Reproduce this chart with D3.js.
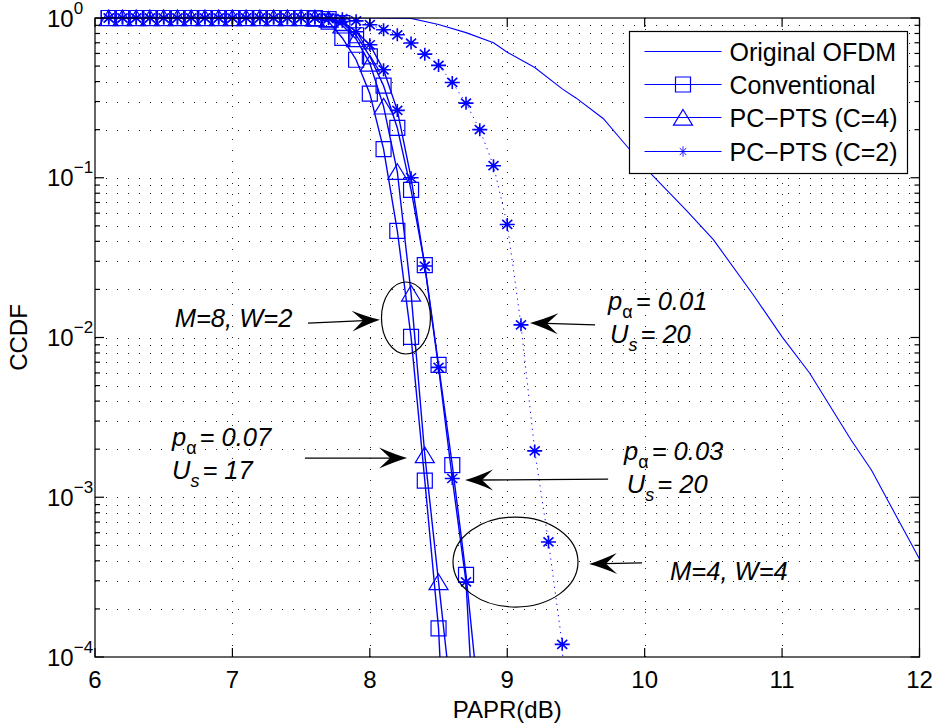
<!DOCTYPE html>
<html>
<head>
<meta charset="utf-8">
<script src="https://cdn.jsdelivr.net/npm/d3@7"></script>
<style>
  body { margin: 0; background: #fff; }
  text { font-family: "Liberation Sans", Arial, Helvetica, sans-serif; fill: #000; }
</style>
</head>
<body>
<svg id="chart" width="939" height="727"></svg>
<script>
// x positions in dB
var paprOrig = [6.0, 8.0, 8.3, 8.5, 8.7, 8.9, 9.0, 9.2, 9.4, 9.5, 9.7, 9.85, 10.05, 10.3, 10.5, 10.8, 11.0, 11.2, 11.5, 11.65, 12.0];
var ccdfOrig = [1, 1, 0.995, 0.91, 0.81, 0.70, 0.61, 0.49, 0.36, 0.316, 0.234, 0.165, 0.105, 0.063, 0.041, 0.018, 0.0101, 0.006, 0.0023, 0.00148, 0.00041];

var papr = [6.1, 6.2, 6.3, 6.4, 6.5, 6.6, 6.7, 6.8, 6.9, 7.0, 7.1, 7.2, 7.3, 7.4, 7.5,
            7.6, 7.7, 7.8, 7.9, 8.0, 8.1, 8.2, 8.3, 8.4, 8.5, 8.6, 8.7, 8.8, 8.9, 9.0,
            9.1, 9.2, 9.3, 9.4, 9.5];

// M=8, W=2
var convM8W2 = [1, 1, 1, 1, 1, 1, 1, 1, 1, 1, 1, 1, 1, 1, 1,
                0.995, 0.95, 0.75, 0.548, 0.336, 0.151, 0.0465, 0.0101, 0.00127, 0.000151, 0.0000025];
var pcptsC4 = [1, 1, 1, 1, 1, 1, 1, 1, 1, 1, 1, 1, 1, 1, 1,
               0.998, 0.98, 0.9, 0.74, 0.52, 0.28, 0.109, 0.0189, 0.00184, 0.000295, 0.000049];
// M=4, W=4
var convM4W4 = [1, 1, 1, 1, 1, 1, 1, 1, 1, 1, 1, 1, 1, 1, 1,
                0.998, 0.985, 0.93, 0.78, 0.575, 0.377, 0.205, 0.084, 0.0284, 0.00673, 0.00159, 0.000327, 0.000046];
var pcptsC2p03 = [1, 1, 1, 1, 1, 1, 1, 1, 1, 1, 1, 1, 1, 1, 1,
                  0.999, 0.99, 0.95, 0.82, 0.68, 0.474, 0.264, 0.10, 0.028, 0.0065, 0.00131, 0.000295, 0.000008];
var pcptsC2p01 = [1, 1, 1, 1, 1, 1, 1, 1, 1, 1, 1, 1, 1, 1, 1,
                  1, 0.999, 0.99, 0.96, 0.908, 0.845, 0.785, 0.697, 0.594, 0.505, 0.395, 0.293, 0.20, 0.119,
                  0.051, 0.012, 0.00195, 0.000525, 0.00012, 0.000001];

var xTicks = [6, 7, 8, 9, 10, 11, 12];
var yTickExp = [0, -1, -2, -3, -4];
var legendNames = ["Original OFDM", "Conventional", "PC\u2212PTS (C=4)", "PC\u2212PTS (C=2)"];

var blue = "#0000ff";
var svg = d3.select("#chart");
var mL = 95, mR = 919.5, mT = 18, mB = 657;

var x = d3.scaleLinear().domain([6, 12]).range([mL, mR]);
var y = d3.scaleLog().domain([1e-4, 1]).range([mB, mT]);

svg.append("rect").attr("width", 939).attr("height", 727).attr("fill", "#fff");

svg.append("clipPath").attr("id", "plotclip")
  .append("rect").attr("x", mL).attr("y", mT).attr("width", mR - mL).attr("height", mB - mT);

// grid
var grid = svg.append("g").attr("stroke", "#222").attr("stroke-width", 1).attr("stroke-dasharray", "1,10");
y.ticks().forEach(function(t) {
  if (t >= 1 || t <= 1e-4) return;
  grid.append("line").attr("x1", mL).attr("x2", mR)
    .attr("y1", Math.round(y(t)) + 0.5).attr("y2", Math.round(y(t)) + 0.5);
});
xTicks.slice(1, -1).forEach(function(t) {
  grid.append("line").attr("y1", mT).attr("y2", mB)
    .attr("x1", Math.round(x(t)) + 0.5).attr("x2", Math.round(x(t)) + 0.5);
});

// markers
var markerPath = {
  square: "M-7.5,-7.5H7.5V7.5H-7.5Z",
  triangle: "M0,-8L9.5,7.7L-9.5,7.7Z",
  star: "M-7.5,0H7.5M0,-6.5V6.5M-5,-4.5L5,4.5M-5,4.5L5,-4.5"
};

var line = d3.line().x(d => x(d[0])).y(d => y(d[1]));
var plot = svg.append("g");

plot.append("path")
  .attr("d", line(paprOrig.map((p, i) => [p, ccdfOrig[i]])))
  .attr("clip-path", "url(#plotclip)")
  .attr("fill", "none").attr("stroke", blue).attr("stroke-width", 1.1);

var series = [
  { vals: convM8W2, marker: "square" },
  { vals: pcptsC4, marker: "triangle" },
  { vals: convM4W4, marker: "square" },
  { vals: pcptsC2p03, marker: "star" },
  { vals: pcptsC2p01, marker: "star", dash: "1.2,4.5" }
];

series.forEach(function(s) {
  var pts = s.vals.map((v, i) => [papr[i], v]);
  plot.append("path")
    .attr("d", line(pts))
    .attr("clip-path", "url(#plotclip)")
    .attr("fill", "none").attr("stroke", blue)
    .attr("stroke-width", s.dash ? 1 : 1.4)
    .attr("stroke-dasharray", s.dash || null);
  plot.selectAll(null).data(pts.filter(d => d[1] >= 1e-4)).enter()
    .append("path")
    .attr("d", markerPath[s.marker])
    .attr("transform", d => "translate(" + x(d[0]) + "," + y(d[1]) + ")")
    .attr("fill", "none").attr("stroke", blue)
    .attr("stroke-width", s.marker === "star" ? 1.6 : 1.2);
});

// axes box and ticks
var ax = svg.append("g").attr("stroke", "#000").attr("stroke-width", 1.2).attr("fill", "none");
ax.append("rect").attr("x", mL).attr("y", mT).attr("width", mR - mL).attr("height", mB - mT);
xTicks.forEach(function(t) {
  ax.append("line").attr("x1", x(t)).attr("x2", x(t)).attr("y1", mB).attr("y2", mB - 9);
  ax.append("line").attr("x1", x(t)).attr("x2", x(t)).attr("y1", mT).attr("y2", mT + 9);
});
y.ticks().forEach(function(t) {
  var major = Math.abs(Math.log10(t) - Math.round(Math.log10(t))) < 1e-9;
  var len = major ? 9 : 5;
  ax.append("line").attr("x1", mL).attr("x2", mL + len).attr("y1", y(t)).attr("y2", y(t));
  ax.append("line").attr("x1", mR).attr("x2", mR - len).attr("y1", y(t)).attr("y2", y(t));
});

// tick labels
xTicks.forEach(function(t) {
  svg.append("text").attr("x", x(t)).attr("y", mB + 31)
    .attr("text-anchor", "middle").attr("font-size", 24).text(t);
});
yTickExp.forEach(function(e) {
  var t = svg.append("text").attr("x", 47).attr("y", y(Math.pow(10, e)) + 8.5).attr("font-size", 24);
  t.append("tspan").text("10");
  t.append("tspan").attr("font-size", 17).attr("dy", -13).text(e === 0 ? "0" : "\u2212" + (-e));
});

svg.append("text").attr("x", (mL + mR) / 2).attr("y", 718)
  .attr("text-anchor", "middle").attr("font-size", 24).text("PAPR(dB)");
svg.append("text").attr("transform", "translate(27," + (mT + mB) / 2 + ") rotate(-90)")
  .attr("text-anchor", "middle").attr("font-size", 24).text("CCDF");

// annotations (anchored in data coordinates)
var ann = svg.append("g");
function ellipse(cx, cy, rx, ry) {
  ann.append("ellipse").attr("cx", x(cx)).attr("cy", y(cy)).attr("rx", rx).attr("ry", ry)
    .attr("fill", "none").attr("stroke", "#000").attr("stroke-width", 1.2);
}
function arrow(x1, y1, x2, y2) {
  var px1 = x(x1), py1 = y(y1), px2 = x(x2), py2 = y(y2);
  var a = Math.atan2(py2 - py1, px2 - px1);
  ann.append("line").attr("x1", px1).attr("y1", py1)
    .attr("x2", px2 - 16 * Math.cos(a)).attr("y2", py2 - 16 * Math.sin(a))
    .attr("stroke", "#000").attr("stroke-width", 1.3);
  ann.append("path").attr("d", "M0,0Q-12,-3.5 -28,-10.5L-17,0L-28,10.5Q-12,3.5 0,0Z")
    .attr("transform", "translate(" + px2 + "," + py2 + ") rotate(" + (a * 180 / Math.PI) + ")")
    .attr("fill", "#000");
}
function label(lx, ly, parts) {
  var t = ann.append("text").attr("x", x(lx)).attr("y", y(ly)).attr("font-size", 25.5).attr("font-style", "italic");
  parts.forEach(function(p) {
    var s = t.append("tspan").text(p.t);
    if (p.sub) s.attr("font-size", 18).attr("dy", 8).attr("font-style", p.up ? "normal" : "italic");
    if (p.back) s.attr("dy", -8).attr("dx", 3);
  });
}

ellipse(8.263, 0.01325, 24.5, 36);
ellipse(9.06, 3.93e-4, 62.5, 45);
arrow(7.55, 0.0123, 8.074, 0.0129);
arrow(7.528, 0.00176, 8.271, 0.00176);
arrow(9.734, 0.0013, 8.693, 0.00128);
arrow(9.639, 0.01198, 9.166, 0.01233);
arrow(9.981, 3.88e-4, 9.595, 3.82e-4);

label(6.58, 0.0117, [{ t: "M=8, W=2" }]);
label(6.56, 0.00209, [{ t: "p" }, { t: "\u03b1", sub: true, up: true }, { t: "= 0.07", back: true }]);
label(6.56, 0.0013, [{ t: "U" }, { t: "s", sub: true }, { t: "= 17", back: true }]);
label(9.734, 0.01486, [{ t: "p" }, { t: "\u03b1", sub: true, up: true }, { t: "= 0.01", back: true }]);
label(9.748, 0.00924, [{ t: "U" }, { t: "s", sub: true }, { t: "= 20", back: true }]);
label(9.85, 0.00171, [{ t: "p" }, { t: "\u03b1", sub: true, up: true }, { t: "= 0.03", back: true }]);
label(9.87, 0.00106, [{ t: "U" }, { t: "s", sub: true }, { t: "= 20", back: true }]);
label(10.185, 3.03e-4, [{ t: "M=4, W=4" }]);

// legend
var lg = svg.append("g").attr("transform", "translate(629.5,31.5)");
lg.append("rect").attr("width", 278).attr("height", 142)
  .attr("fill", "#fff").attr("stroke", "#000").attr("stroke-width", 1.2);
var legendMarks = [null, "square", "triangle", "star"];
legendNames.forEach(function(n, i) {
  var ly = Math.round(20 + i * 33.2);
  lg.append("line").attr("x1", 15).attr("x2", 92).attr("y1", ly).attr("y2", ly)
    .attr("stroke", blue).attr("stroke-width", 1.2);
  if (legendMarks[i]) {
    lg.append("path").attr("d", markerPath[legendMarks[i]])
      .attr("transform", "translate(53.5," + ly + ")" + (legendMarks[i] === "star" ? " scale(0.65,0.8)" : ""))
      .attr("fill", "none").attr("stroke", blue).attr("stroke-width", 1.2);
  }
  lg.append("text").attr("x", 100).attr("y", ly + 9).attr("font-size", 25).text(n);
});
</script>
</body>
</html>
